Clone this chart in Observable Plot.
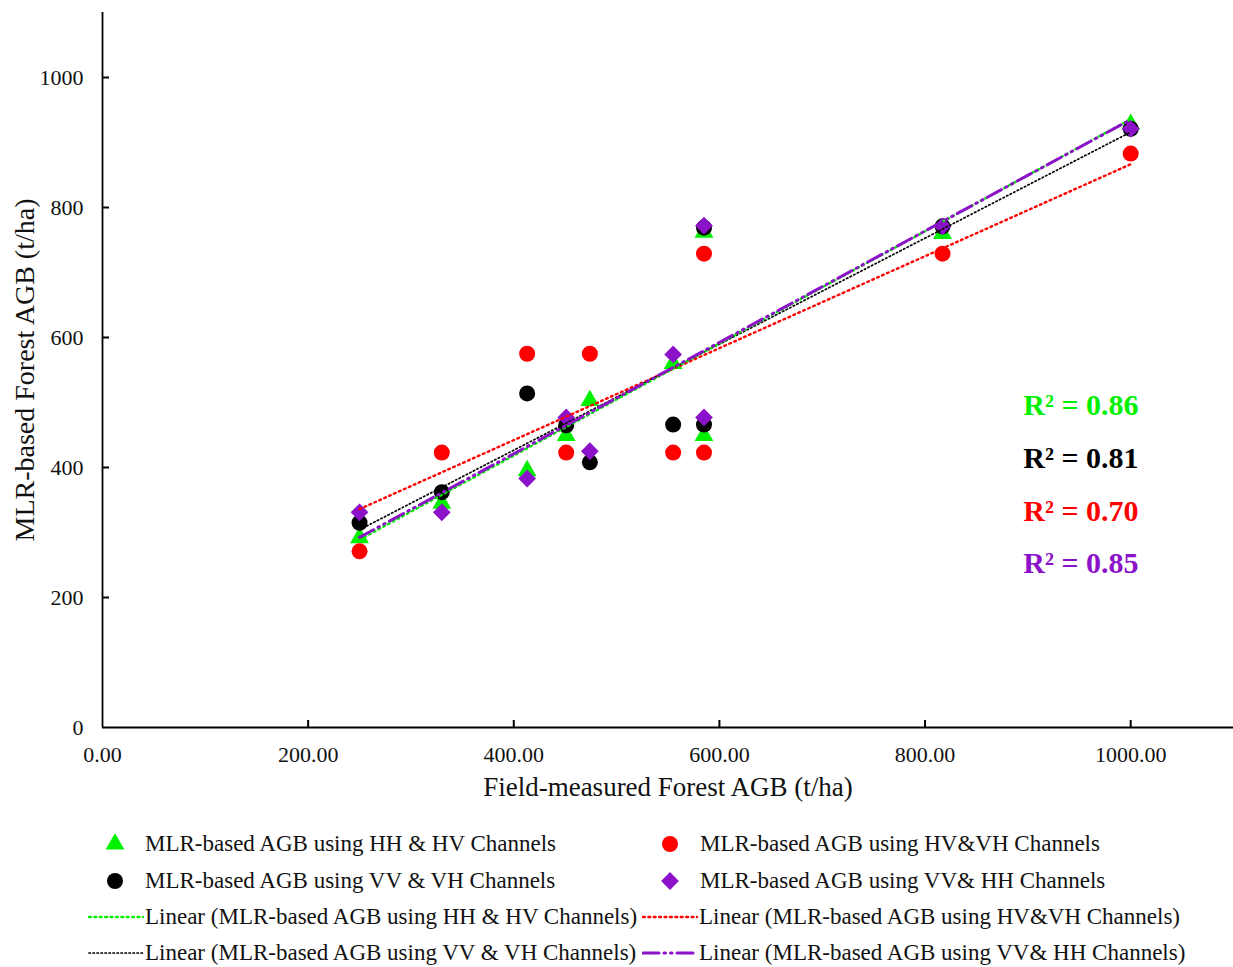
<!DOCTYPE html>
<html>
<head>
<meta charset="utf-8">
<script src="https://cdn.jsdelivr.net/npm/d3@7"></script>
<script src="https://cdn.jsdelivr.net/npm/@observablehq/plot@0.6"></script>
<style>
  body { margin: 0; background: #fff; font-family: "Liberation Serif", "Times New Roman", serif; }
  #wrap { position: relative; width: 1233px; height: 967px; }
  #chart svg { display: block; }
  .leg { position: absolute; font-size: 23px; color: #111; white-space: nowrap; display: flex; align-items: center; line-height: 1; }
  .leg svg { display: block; }
</style>
</head>
<body>
<div id="wrap">
  <div id="chart"></div>
  <div id="legend"></div>
</div>
<script>
// ---- data ----
const fieldAGB = [250, 330, 413, 451, 474, 555, 585, 585, 817, 1000];
const hhhv = [292, 345, 395, 449, 503, 560, 762, 449, 760, 928];
const hvvh = [271, 423, 575, 423, 575, 423, 729, 423, 729, 883];
const vvvh = [315, 362, 514, 465, 408, 466, 769, 466, 771, 921];
const vvhh = [331, 331, 383, 477, 425, 574, 772, 477, 771, 921];

const seriesNames = [
  "MLR-based AGB using HH & HV Channels",
  "MLR-based AGB using HV&VH Channels",
  "MLR-based AGB using VV & VH Channels",
  "MLR-based AGB using VV& HH Channels"
];
const seriesColors = ["#00F000", "#FF0000", "#000000", "#8B12C8"];
const seriesSymbols = ["triangle", "circle", "circle", "diamond2"];
const r2Labels = ["R² = 0.86", "R² = 0.81", "R² = 0.70", "R² = 0.85"];
const r2Colors = ["#00F000", "#000000", "#FF0000", "#8B12C8"];
const xTicks = [0, 200, 400, 600, 800, 1000];
const yTicks = [0, 200, 400, 600, 800, 1000];

const values = [hhhv, hvvh, vvvh, vvhh];
const tables = values.map(v => fieldAGB.map((x, i) => ({x, y: v[i]})));

const dash = ["1.8,3.6", "1.8,3.6", "1.4,2.6", "16,5,1.5,5,1.5,5"];
const lineW = [2.4, 2.4, 1.7, 3];
const symR = [7, 8, 8, 8];

const W = 1233, H = 810, mL = 102, mR = 0, mT = 12, mB = 83;
const plotW = W - mL - mR, plotH = H - mT - mB;

// draw order: green, red, black, purple
const dotMarks = [0, 1, 2, 3].map(i =>
  Plot.dot(tables[i], {x: "x", y: "y", symbol: () => seriesSymbols[i], r: symR[i], fill: seriesColors[i], stroke: "none"})
);
const regMarks = [1, 2, 0, 3].map(i =>
  Plot.linearRegressionY(tables[i], {x: "x", y: "y", ci: 0, stroke: seriesColors[i], strokeWidth: lineW[i], strokeDasharray: dash[i], strokeLinecap: "round"})
);
const r2Marks = r2Labels.map((t, i) =>
  Plot.text([t], {frameAnchor: "top-right", text: d => d, dx: -95, dy: 393 + i * 52.7, textAnchor: "end", fill: r2Colors[i], fontSize: 30, fontWeight: "bold", lineAnchor: "middle"})
);

const chart = Plot.plot({
  width: W,
  height: H,
  marginLeft: mL,
  marginRight: mR,
  marginTop: mT,
  marginBottom: mB,
  style: {fontFamily: "Liberation Serif, Times New Roman, serif", fontSize: "22px", color: "#111", background: "#fff"},
  x: {domain: [0, 1100]},
  y: {domain: [0, 1100]},
  symbol: {type: "identity"},
  marks: [
    Plot.axisX({ticks: xTicks, tickFormat: d => d.toFixed(2), tickSize: 0, tickPadding: 19, label: null, fontSize: 22}),
    Plot.axisY({ticks: yTicks, tickFormat: d => String(d), tickSize: 0, tickPadding: 19, label: null, fontSize: 22}),
    Plot.gridX({ticks: xTicks.filter(d => d > 0), stroke: "#000", strokeOpacity: 1, strokeWidth: 2, insetTop: plotH - 7}),
    Plot.gridY({ticks: yTicks.filter(d => d > 0), stroke: "#000", strokeOpacity: 1, strokeWidth: 2, insetRight: plotW - 7}),
    Plot.ruleX([0], {stroke: "#000", strokeWidth: 1.8}),
    Plot.ruleY([0], {stroke: "#000", strokeWidth: 1.8}),
    ...dotMarks,
    ...regMarks,
    ...r2Marks,
    Plot.text(["Field-measured Forest AGB (t/ha)"], {frameAnchor: "bottom", text: d => d, dy: 60, fontSize: 27, lineAnchor: "middle", textAnchor: "middle", fill: "#111"}),
    Plot.text(["MLR-based Forest AGB (t/ha)"], {frameAnchor: "left", text: d => d, dx: -77, rotate: -90, fontSize: 28, lineAnchor: "middle", textAnchor: "middle", fill: "#111"})
  ]
});
document.getElementById("chart").appendChild(chart);

// ---- legend (HTML below the SVG) ----
const legend = document.getElementById("legend");
function symbolSvg(i) {
  const sym = d3.symbol().type(i === 0 ? d3.symbolTriangle : i === 3 ? d3.symbolDiamond2 : d3.symbolCircle)
    .size(Math.PI * symR[i] * symR[i]);
  return `<svg width="20" height="20" viewBox="-10 -10 20 20"><path d="${sym()}" fill="${seriesColors[i]}"/></svg>`;
}
function lineSvg(i) {
  return `<svg width="56" height="10"><line x1="1" x2="55" y1="5" y2="5" stroke="${seriesColors[i]}" stroke-width="${lineW[i]}" stroke-dasharray="${dash[i]}" stroke-linecap="round"/></svg>`;
}
// grid order: row1 [HH&HV, HV&VH], row2 [VV&VH, VV&HH]
const order = [[0, 1], [2, 3]];
const rowY = [844, 881, 917, 953];
order.forEach((pair, r) => {
  pair.forEach((s, c) => {
    const el = document.createElement("div");
    el.className = "leg";
    el.style.left = (c === 0 ? 105 : 660) + "px";
    el.style.top = (rowY[r] - 12) + "px";
    el.innerHTML = symbolSvg(s) + `<span style="margin-left:20px">${seriesNames[s]}</span>`;
    legend.appendChild(el);
  });
});
order.forEach((pair, r) => {
  pair.forEach((s, c) => {
    const el = document.createElement("div");
    el.className = "leg";
    el.style.left = (c === 0 ? 88 : 642) + "px";
    el.style.top = (rowY[r + 2] - 12) + "px";
    el.innerHTML = lineSvg(s) + `<span style="margin-left:1px">Linear (${seriesNames[s]})</span>`;
    legend.appendChild(el);
  });
});
</script>
</body>
</html>
